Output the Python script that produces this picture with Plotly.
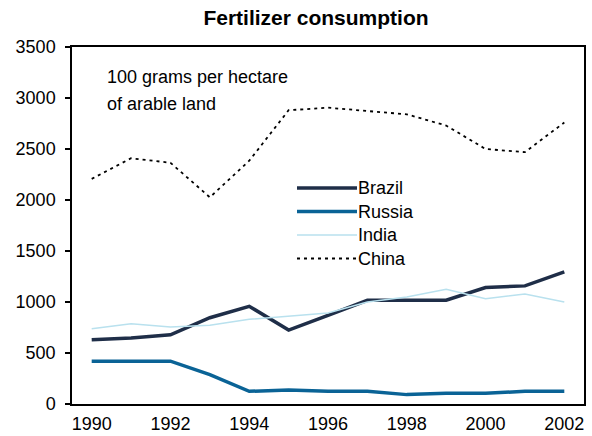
import plotly.graph_objects as go

years = list(range(1990, 2003))
brazil = [630, 646, 679, 846, 958, 725, 869, 1017, 1017, 1017, 1142, 1158, 1296]
russia = [420, 420, 420, 288, 124, 138, 124, 124, 92, 105, 105, 124, 124]
india = [738, 787, 754, 771, 830, 862, 892, 1000, 1049, 1125, 1033, 1079, 1000]
china = [2207, 2409, 2365, 2026, 2385, 2880, 2905, 2875, 2840, 2730, 2500, 2469, 2760]

series_names = ["Brazil", "Russia", "India", "China"]
colors = ["#1f2e48", "#0a6396", "#b9e1ee", "#000000"]
widths = [3.5, 3.5, 1.5, 1.8]
dashes = ["solid", "solid", "solid", "3px,4px"]
values = [brazil, russia, india, china]

FONT = "Liberation Sans, Arial, sans-serif"
W, H = 592, 436
L, R, T, B = 72, 8, 47, 32
pw, ph = W - L - R, H - T - B

def px_x(x):
    return (x - L) / pw

def px_y(y):
    return (H - B - y) / ph

fig = go.Figure()
for name, vals, c, w, d in zip(series_names, values, colors, widths, dashes):
    fig.add_trace(go.Scatter(x=years, y=vals, mode="lines", name=name,
                             line=dict(color=c, width=w, dash=d),
                             showlegend=False))

# manual legend (long line samples like the reference)
leg_y = [188, 211.5, 235, 258.5]
for name, c, w, d, yy in zip(series_names, colors, widths, dashes, leg_y):
    fig.add_shape(type="line", xref="paper", yref="paper",
                  x0=px_x(297), x1=px_x(357), y0=px_y(yy), y1=px_y(yy),
                  line=dict(color=c, width=w, dash=d))
    fig.add_annotation(text=name, xref="paper", yref="paper",
                       x=px_x(356), y=px_y(yy), xanchor="left", yanchor="middle",
                       showarrow=False, font=dict(family=FONT, size=18, color="#000"))

fig.add_annotation(text="100 grams per hectare", xref="paper", yref="paper",
                   x=px_x(105), y=px_y(77), xanchor="left", yanchor="middle",
                   showarrow=False, font=dict(family=FONT, size=18, color="#000"))
fig.add_annotation(text="of arable land", xref="paper", yref="paper",
                   x=px_x(105), y=px_y(104), xanchor="left", yanchor="middle",
                   showarrow=False, font=dict(family=FONT, size=18, color="#000"))

fig.update_layout(
    width=W, height=H,
    margin=dict(l=L, r=R, t=T, b=B, pad=0, autoexpand=False),
    paper_bgcolor="white", plot_bgcolor="white",
    title=dict(text="<b>Fertilizer consumption</b>", x=316 / W, xanchor="center",
               y=1 - 18 / H, yanchor="middle", automargin=False,
               font=dict(family=FONT, size=21, color="#000")),
    font=dict(family=FONT, size=18, color="#000"),
    xaxis=dict(range=[1989.5, 2002.5], tickmode="array",
               tickvals=list(range(1990, 2003, 2)),
               ticktext=[str(v) for v in range(1990, 2003, 2)],
               ticks="", showgrid=False, zeroline=False, automargin=False,
               showline=True, linecolor="#000", linewidth=1.5, mirror=True,
               tickfont=dict(family=FONT, size=18, color="#000"),
               ticklabelstandoff=3),
    yaxis=dict(range=[0, 3500], tickmode="array",
               tickvals=list(range(0, 3501, 500)),
               ticks="outside", ticklen=5, tickwidth=1.5, tickcolor="#000",
               showgrid=False, zeroline=False, automargin=False,
               showline=True, linecolor="#000", linewidth=1.5, mirror=True,
               tickfont=dict(family=FONT, size=18, color="#000"),
               ticklabelstandoff=6),
)

fig.write_html("out.html", config={"displayModeBar": False},
               post_script="document.body.style.margin='0';document.body.style.overflow='hidden';")
